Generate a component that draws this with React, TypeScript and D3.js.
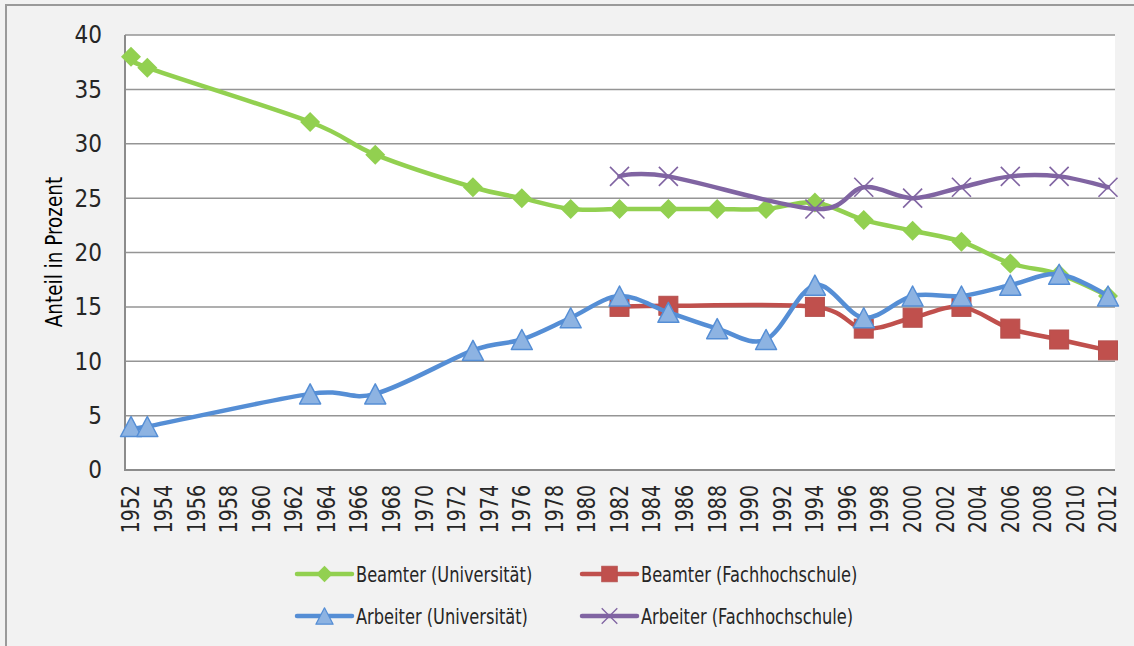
import React from 'react';
import * as d3 from 'd3';

// values
const beamterUniYears = [1952, 1953, 1963, 1967, 1973, 1976, 1979, 1982, 1985, 1988, 1991, 1994, 1997, 2000, 2003, 2006, 2009, 2012];
const beamterUniValues = [38, 37, 32, 29, 26, 25, 24, 24, 24, 24, 24, 24.6, 23, 22, 21, 19, 18, 16];

const beamterFhYears = [1982, 1985, 1994, 1997, 2000, 2003, 2006, 2009, 2012];
const beamterFhValues = [15, 15.1, 15, 13, 14, 15, 13, 12, 11];

const arbeiterUniYears = [1952, 1953, 1963, 1967, 1973, 1976, 1979, 1982, 1985, 1988, 1991, 1994, 1997, 2000, 2003, 2006, 2009, 2012];
const arbeiterUniValues = [4, 4, 7, 7, 11, 12, 14, 16, 14.5, 13, 12, 17, 14, 16, 16, 17, 18, 16];

const arbeiterFhYears = [1982, 1985, 1994, 1997, 2000, 2003, 2006, 2009, 2012];
const arbeiterFhValues = [27, 27, 24, 26, 25, 26, 27, 27, 26];

const xTickYears = d3.range(1952, 2013, 2);
const yTicks = [0, 5, 10, 15, 20, 25, 30, 35, 40];

const yAxisLabel = 'Anteil in Prozent';

type Marker = 'diamond' | 'square' | 'triangle' | 'cross';

const series = [
    { name: 'Beamter (Universität)', years: beamterUniYears, values: beamterUniValues, color: '#92d050', marker: 'diamond' as Marker },
    { name: 'Beamter (Fachhochschule)', years: beamterFhYears, values: beamterFhValues, color: '#c0504d', marker: 'square' as Marker },
    { name: 'Arbeiter (Universität)', years: arbeiterUniYears, values: arbeiterUniValues, color: '#558ed5', marker: 'triangle' as Marker },
    { name: 'Arbeiter (Fachhochschule)', years: arbeiterFhYears, values: arbeiterFhValues, color: '#8064a2', marker: 'cross' as Marker },
];

const font = '"Liberation Sans Narrow", "DejaVu Sans Condensed", "Roboto", sans-serif';
const textColor = '#262626';
const gridColor = '#959595';

function MarkerShape({ type, x, y, color }: { type: Marker; x: number; y: number; color: string }) {
    if (type === 'diamond') {
        const s = 10;
        return <polygon points={`${x},${y - s} ${x + s},${y} ${x},${y + s} ${x - s},${y}`} fill={color} />;
    }
    if (type === 'square') {
        const s = 9.5;
        return <rect x={x - s} y={y - s} width={s * 2} height={s * 2} fill={color} stroke="#b5504e" strokeWidth={1} />;
    }
    if (type === 'triangle') {
        const w = 10.5, h = 10;
        return (
            <polygon
                points={`${x},${y - h} ${x + w},${y + h} ${x - w},${y + h}`}
                fill="#8db3e2"
                stroke={color}
                strokeWidth={1.5}
                strokeLinejoin="round"
            />
        );
    }
    const s = 9.5;
    return (
        <g stroke={color} strokeWidth={1.6}>
            <line x1={x - s} y1={y - s} x2={x + s} y2={y + s} />
            <line x1={x - s} y1={y + s} x2={x + s} y2={y - s} />
        </g>
    );
}

export default function App() {
    const width = 1134;
    const height = 646;
    const plot = { left: 125, right: 1115, top: 35, bottom: 470 };

    const xScale = d3.scaleLinear()
        .domain([1951.63, 2012.43])
        .range([plot.left, plot.right]);

    const yScale = d3.scaleLinear()
        .domain([0, 40])
        .range([plot.bottom, plot.top]);

    const lineGenerator = d3.line<[number, number]>()
        .x(d => xScale(d[0]))
        .y(d => yScale(d[1]))
        .curve(d3.curveCardinal.tension(0));

    const legendItems = [
        { s: series[0], x: 297, y: 574 },
        { s: series[1], x: 582, y: 574 },
        { s: series[2], x: 297, y: 616 },
        { s: series[3], x: 582, y: 616 },
    ];

    return (
        <svg width={width} height={height} style={{ position: 'absolute', left: 0, top: 0 }} fontFamily={font}>
            <rect x={0} y={0} width={width} height={height} fill="#f2f2f2" />
            <rect x={6} y={5} width={width + 20} height={height + 20} fill="none" stroke="#9a9a9a" strokeWidth={2} />

            <rect x={plot.left} y={plot.top} width={plot.right - plot.left} height={plot.bottom - plot.top} fill="#ffffff" />

            {yTicks.filter(t => t > 0).map(t => (
                <line key={t} x1={plot.left} x2={plot.right} y1={yScale(t)} y2={yScale(t)} stroke={gridColor} strokeWidth={1.5} />
            ))}
            <line x1={plot.left} x2={plot.left} y1={plot.top} y2={plot.bottom} stroke="#8c8c8c" strokeWidth={2} />
            <line x1={plot.left - 1} x2={plot.right} y1={plot.bottom} y2={plot.bottom} stroke="#8c8c8c" strokeWidth={2} />

            {yTicks.map(t => (
                <text key={t} x={102} y={yScale(t)} dy="0.35em" textAnchor="end" fontSize={24} fill={textColor}>{t}</text>
            ))}

            {xTickYears.map(yr => (
                <text
                    key={yr}
                    transform={`translate(${xScale(yr)},${plot.bottom + 15}) rotate(-90) scale(0.88,1)`}
                    dy="0.35em"
                    textAnchor="end"
                    fontSize={24}
                    fill={textColor}
                >{yr}</text>
            ))}

            <text
                transform={`translate(54,252) rotate(-90) scale(0.89,1)`}
                textAnchor="middle"
                dy="0.35em"
                fontSize={23}
                fill="#000"
            >{yAxisLabel}</text>

            {series.map(s => {
                const pts = s.years.map((yr, i) => [yr, s.values[i]] as [number, number]);
                return (
                    <g key={s.name}>
                        <path d={lineGenerator(pts) || ''} fill="none" stroke={s.color} strokeWidth={4.5} strokeLinejoin="round" strokeLinecap="round" />
                        {pts.map(p => (
                            <MarkerShape key={p[0]} type={s.marker} x={xScale(p[0])} y={yScale(p[1])} color={s.color} />
                        ))}
                    </g>
                );
            })}

            {legendItems.map(({ s, x, y }) => (
                <g key={s.name}>
                    <line x1={x} x2={x + 55} y1={y} y2={y} stroke={s.color} strokeWidth={4.5} strokeLinecap="round" />
                    <g transform={`translate(${x + 27.5},${y}) scale(0.82) translate(${-(x + 27.5)},${-y})`}>
                        <MarkerShape type={s.marker} x={x + 27.5} y={y} color={s.color} />
                    </g>
                    <text
                        transform={`translate(${x + 59},${y}) scale(0.82,1)`}
                        dy="0.35em"
                        fontSize={22}
                        fill={textColor}
                    >{s.name}</text>
                </g>
            ))}
        </svg>
    );
}
